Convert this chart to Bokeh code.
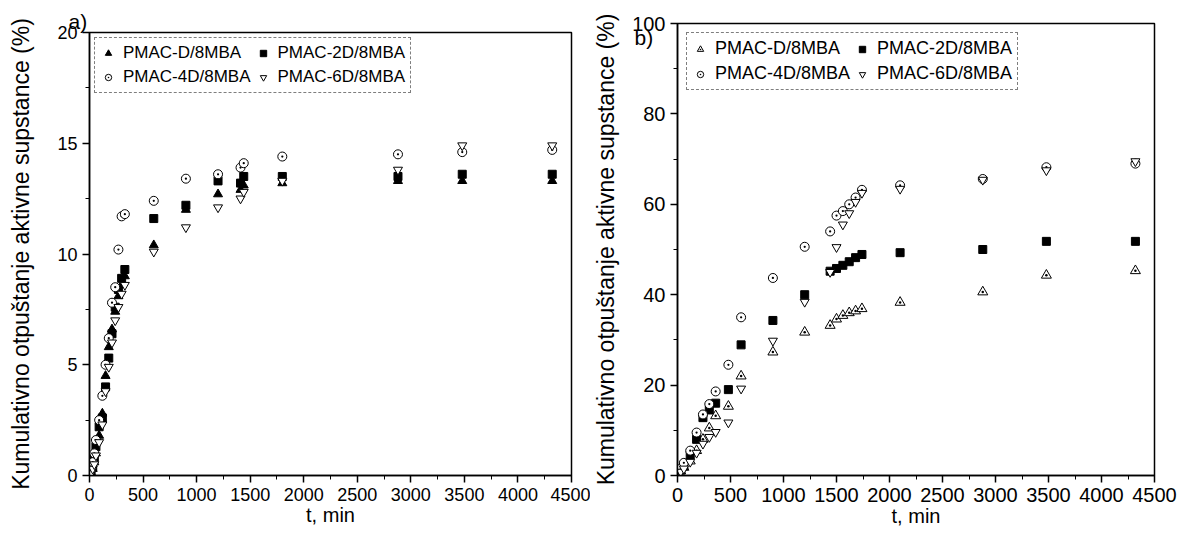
from bokeh.plotting import figure
from bokeh.layouts import row
from bokeh.models import SingleIntervalTicker, Title, Legend, LegendItem, Range1d
from bokeh.embed import file_html
from bokeh.resources import INLINE

# ---------- data panel a) ----------
t_a = [15, 30, 45, 60, 90, 120, 150, 180, 210, 240, 270, 300, 330,
       600, 900, 1200, 1410, 1440, 1800, 2880, 3480, 4320]
D_a = [0.1, 0.3, 0.6, 1.0, 1.8, 2.8, 4.5, 5.8, 6.6, 7.4, 8.1, 8.6, 9.0,
       10.4, 12.0, 12.7, 12.9, 13.1, 13.2, 13.3, 13.3, 13.3]
D2_a = [0.2, 0.4, 0.8, 1.3, 2.2, 2.6, 4.0, 5.3, 6.4, 7.6, 8.4, 8.9, 9.3,
        11.6, 12.2, 13.3, 13.2, 13.5, 13.5, 13.5, 13.6, 13.6]
D4_a = [0.3, 0.6, 1.0, 1.6, 2.5, 3.6, 5.0, 6.2, 7.8, 8.5, 10.2, 11.7, 11.8,
        12.4, 13.4, 13.6, 13.9, 14.1, 14.4, 14.5, 14.6, 14.7]
D6_a = [0.1, 0.3, 0.5, 0.9, 1.5, 2.3, 3.8, 4.9, 6.0, 7.0, 7.6, 8.2, 8.6,
        10.1, 11.2, 12.1, 12.5, 12.8, 13.3, 13.8, 14.9, 14.9]

# ---------- data panel b) ----------
t_b = [30, 60, 120, 180, 240, 300, 360, 480, 600, 900, 1200,
       1440, 1500, 1560, 1620, 1680, 1740, 2100, 2880, 3480, 4320]
D_b = [1.0, 1.8, 3.2, 5.5, 8.0, 10.5, 13.2, 15.3, 22.0, 27.3, 31.7,
       33.2, 34.6, 35.4, 36.0, 36.4, 36.9, 38.3, 40.6, 44.3, 45.3]
D2_b = [1.2, 2.2, 4.5, 8.0, 12.8, 14.5, 16.0, 19.0, 28.9, 34.3, 40.0,
        45.2, 45.8, 46.5, 47.3, 48.2, 48.9, 49.3, 50.0, 51.8, 51.8]
D4_b = [1.5, 2.8, 5.5, 9.5, 13.5, 15.8, 18.6, 24.5, 35.0, 43.7, 50.6,
        54.0, 57.5, 58.5, 60.0, 61.5, 63.2, 64.2, 65.6, 68.2, 69.0]
D6_b = [0.8, 1.5, 3.0, 5.0, 7.0, 8.5, 9.6, 11.7, 19.2, 29.8, 38.4,
        45.0, 50.5, 55.5, 58.0, 60.5, 62.5, 63.4, 65.4, 67.5, 69.5]

names = ["PMAC-D/8MBA", "PMAC-2D/8MBA", "PMAC-4D/8MBA", "PMAC-6D/8MBA"]

FONT = "Liberation Sans"
YLABEL = "Kumulativno otpuštanje aktivne supstance (%)"


def make(width, height, borders, ymax, ystep, series, t, tick_size, leg_size,
         leg_margin, panel, panel_offset, panel_standoff, styles, ylab_standoff):
    bl, br, bt, bb = borders
    p = figure(width=width, height=height, output_backend="svg",
               toolbar_location=None, x_range=Range1d(0, 4500),
               y_range=Range1d(0, ymax),
               min_border_left=bl, min_border_right=br,
               min_border_top=bt, min_border_bottom=bb)
    p.grid.visible = False
    p.outline_line_color = "black"
    p.outline_line_width = 1.5
    p.background_fill_color = "white"
    p.border_fill_color = "white"
    p.xaxis.ticker = SingleIntervalTicker(interval=500, num_minor_ticks=2)
    p.yaxis.ticker = SingleIntervalTicker(interval=ystep, num_minor_ticks=2)
    for ax in (p.xaxis[0], p.yaxis[0]):
        ax.axis_line_width = 1.5
        ax.axis_line_color = "black"
        ax.major_tick_out = 7
        ax.major_tick_in = 0
        ax.minor_tick_out = 4
        ax.minor_tick_in = 0
        ax.major_tick_line_width = 1.5
        ax.major_label_text_font = FONT
        ax.major_label_text_font_size = f"{tick_size}px"
        ax.major_label_text_color = "black"
        ax.axis_label_text_font = FONT
        ax.axis_label_text_font_style = "normal"
        ax.axis_label_text_color = "black"
    p.xaxis.axis_label = "t, min"
    p.xaxis.axis_label_text_font_size = "20px"
    p.xaxis.axis_label_standoff = 0
    p.yaxis.axis_label = YLABEL
    p.yaxis.axis_label_text_font_size = "23px"
    p.yaxis.axis_label_standoff = ylab_standoff

    items = []
    for (vals, name, st) in zip(series, names, styles):
        r = p.scatter(t, vals, marker=st[0], size=st[1],
                      fill_color=st[2], line_color="black", line_width=1)
        items.append(LegendItem(label=name, renderers=[r]))
    leg = Legend(items=items, location="top_left", orientation="horizontal",
                 ncols=2)
    leg.label_text_font = FONT
    leg.label_text_font_size = f"{leg_size}px"
    leg.label_text_color = "black"
    leg.border_line_color = "black"
    leg.border_line_dash = "3 2"
    leg.border_line_width = 1
    leg.margin = leg_margin
    leg.padding = 5
    leg.spacing = 4
    leg.glyph_width = 16
    leg.glyph_height = 16
    leg.label_height = 16
    leg.label_standoff = 7
    leg.background_fill_alpha = 1.0
    p.add_layout(leg)

    p.add_layout(Title(text=panel, align="left", offset=panel_offset,
                       standoff=panel_standoff, text_font=FONT,
                       text_font_size="21px", text_font_style="normal",
                       text_color="black"), "above")
    return p


styles_a = [("triangle", 9, "black"), ("square", 8, "black"),
            ("circle_dot", 9, "white"), ("inverted_triangle", 9, "white")]
styles_b = [("triangle_dot", 10, "white"), ("square", 8, "black"),
            ("circle_dot", 9, "white"), ("inverted_triangle", 9, "white")]

pa = make(590, 529, (89, 19, 32, 49), 20, 5, [D_a, D2_a, D4_a, D6_a], t_a,
          18, 17, 5, "a)", -21, 0, styles_a, 20)
# panel b: its "b)" title needs ~32px above the frame, so the canvas is
# lifted by 9px to keep the frame top where the reference has it
pb = make(591, 538, (78, 27, 32, 50), 100, 20, [D_b, D2_b, D4_b, D6_b], t_b,
          20, 18, 9, "b)", -43, -50, styles_b, 10)
pb.margin = (-9, 0, 0, 0)

layout = row(pa, pb)
open("out.html", "w").write(file_html(layout, INLINE))
